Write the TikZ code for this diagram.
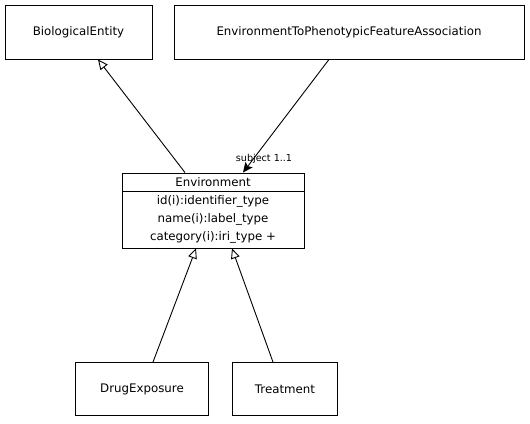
\documentclass[tikz,border=0pt]{standalone}
\usepackage{fontspec}
\setmainfont{DejaVu Sans}
\usetikzlibrary{arrows.meta}
\begin{document}
\begin{tikzpicture}[x=1pt,y=-1pt,
  box/.style={draw,line width=0.9pt,inner sep=0pt,font=\fontsize{11.8}{14}\selectfont},
  gen/.style={line width=0.9pt,-{Triangle[open,length=10pt,width=9pt]}},
  assoc/.style={line width=0.9pt,-{Stealth[length=10pt,width=9pt,inset=2pt]}},
  lbl/.style={font=\fontsize{9.6}{11}\selectfont,inner sep=0pt}]
\useasboundingbox (0,0) rectangle (530,423);
\node[box,minimum width=147pt,minimum height=54pt] (be) at (78.5,32) {BiologicalEntity};
\node[box,minimum width=350pt,minimum height=54pt] (epfa) at (349,32) {EnvironmentToPhenotypicFeatureAssociation};
\node[box,minimum width=182pt,minimum height=18pt] (envh) at (213,182) {Environment};
\node[box,minimum width=182pt,minimum height=57pt,align=center] (enva) at (213,219.5)
  {id(i):identifier\_type\\[4pt]name(i):label\_type\\[4pt]category(i):iri\_type +};
\node[box,minimum width=133pt,minimum height=53pt] (de) at (142,389) {DrugExposure};
\node[box,minimum width=105pt,minimum height=53pt] (tr) at (285,389) {Treatment};
\draw[gen] (185,0 |- envh.north) -- (98,0 |- be.south);
\draw[assoc] (329,0 |- epfa.south) -- (243,0 |- envh.north);
\node[lbl] (subj) at (264,159) {subject 1..1};
\draw[gen] (153,0 |- de.north) -- (196,0 |- enva.south);
\draw[gen] (273,0 |- tr.north) -- (232,0 |- enva.south);
\end{tikzpicture}
\end{document}
